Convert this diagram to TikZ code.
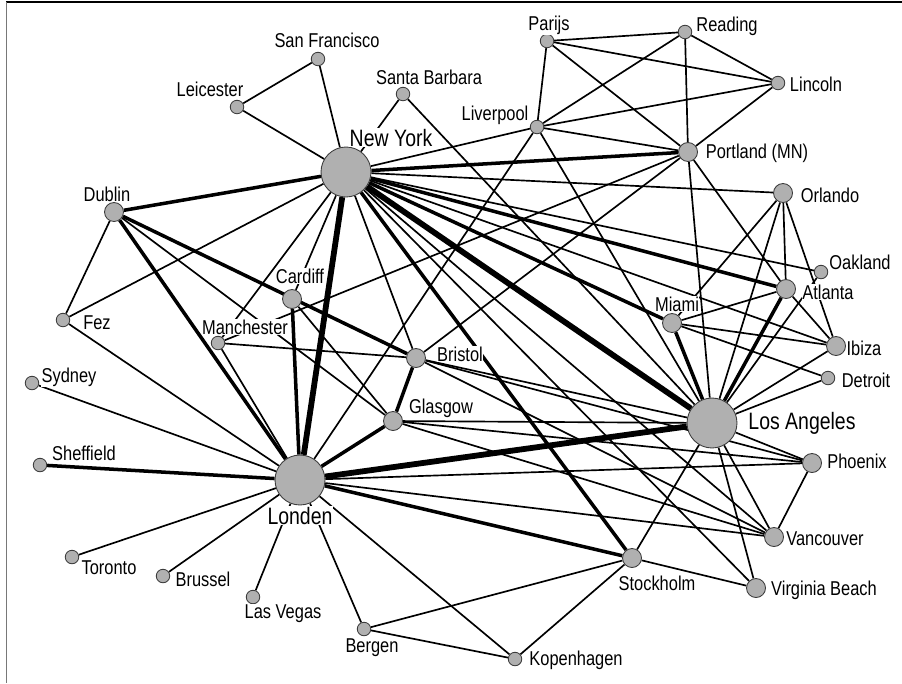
\documentclass[tikz,border=0pt]{standalone}
\usepackage{fontspec}
\setmainfont{Liberation Sans}[FakeStretch=0.82]
\definecolor{citygray}{RGB}{176,176,176}
\definecolor{rimgray}{RGB}{60,60,60}
\definecolor{framegray}{RGB}{120,120,120}
\pgfdeclarelayer{edges}
\pgfsetlayers{edges,main}
\tikzset{
  city/.style={circle,draw=rimgray,fill=citygray,line width=0.5pt,inner sep=0pt,minimum size=0.27cm},
  midcity/.style={city,minimum size=0.38cm},
  hubcity/.style={city,minimum size=1cm},
  lbl/.style={fill=white,inner sep=0.3pt,anchor=base,font=\fontsize{11.4}{13}\selectfont},
  hublbl/.style={lbl,font=\fontsize{13.5}{15}\selectfont},
  link/.style={line width=0.95pt},
  heavy/.style={line width=2pt},
  trunk/.style={line width=3.3pt},
}

\begin{document}
\begin{tikzpicture}[x=0.02cm,y=-0.02cm]
  \useasboundingbox (0,0) rectangle (902,683);
  % frame
  \draw[line width=0.8pt] (6,2) -- (902,2);
  \draw[framegray,line width=0.8pt] (6.5,2) -- (6.5,683);
  % hubs
  \node[hubcity] (ny)  at (346,172) {};
  \node[hubcity] (la)  at (712,423) {};
  \node[hubcity] (lon) at (300,480) {};
  % medium cities
  \node[midcity] (port) at (688,152) {};
  \node[midcity] (orl)  at (783,193) {};
  \node[midcity] (atl)  at (786,289) {};
  \node[midcity] (mia)  at (672,323) {};
  \node[midcity] (ibi)  at (836,346) {};
  \node[midcity] (phx)  at (812,463) {};
  \node[midcity] (van)  at (774,537) {};
  \node[midcity] (vb)   at (756,588) {};
  \node[midcity] (sto)  at (632,558) {};
  \node[midcity] (dub)  at (114,212) {};
  \node[midcity] (car)  at (292,299) {};
  \node[midcity] (bri)  at (416,358) {};
  \node[midcity] (gla)  at (393,421) {};
  % small cities
  \node[city] (sf)   at (318,59)  {};
  \node[city] (leic) at (237,107) {};
  \node[city] (sb)   at (403,94)  {};
  \node[city] (par)  at (547,41)  {};
  \node[city] (read) at (685,32)  {};
  \node[city] (linc) at (778,83)  {};
  \node[city] (liv)  at (537,127) {};
  \node[city] (oak)  at (821,272) {};
  \node[city] (det)  at (828,378) {};
  \node[city] (kop)  at (515,659) {};
  \node[city] (ber)  at (364,629) {};
  \node[city] (lv)   at (253,597) {};
  \node[city] (bru)  at (163,576) {};
  \node[city] (tor)  at (72,557)  {};
  \node[city] (she)  at (40,465)  {};
  \node[city] (syd)  at (32,383)  {};
  \node[city] (fez)  at (63,320)  {};
  \node[city] (man)  at (218,343) {};
  % connections
  \begin{pgfonlayer}{edges}
    \foreach \a/\b in {ny/la,ny/lon,lon/la}
      \draw[trunk] (\a) -- (\b);
    \foreach \a/\b in {ny/port,ny/dub,ny/atl,ny/mia,ny/sto,dub/lon,dub/bri,car/lon,
                       lon/gla,bri/gla,lon/she,lon/sto,la/mia,la/atl}
      \draw[heavy] (\a) -- (\b);
    \foreach \a/\b in {sf/leic,sf/ny,leic/ny,sb/ny,sb/la,
                       par/read,par/linc,par/liv,par/port,read/linc,read/liv,read/port,
                       linc/liv,linc/port,liv/ny,liv/port,liv/lon,liv/la,
                       port/man,port/bri,port/la,port/atl,
                       ny/orl,ny/oak,ny/ibi,ny/fez,ny/man,ny/car,ny/bri,ny/van,ny/vb,
                       dub/fez,dub/gla,fez/lon,syd/lon,tor/lon,bru/lon,lv/lon,ber/lon,
                       kop/lon,lon/phx,lon/van,man/lon,man/bri,car/gla,
                       bri/la,bri/phx,bri/van,gla/la,gla/phx,gla/van,
                       orl/mia,orl/la,orl/atl,orl/ibi,oak/la,mia/atl,mia/ibi,mia/det,
                       atl/ibi,ibi/la,det/la,la/phx,la/van,la/vb,la/sto,phx/van,
                       sto/vb,sto/ber,sto/kop,ber/kop}
      \draw[link] (\a) -- (\b);
  \end{pgfonlayer}
  % labels
  \node[hublbl] (ny-l)  at (391,146) {New York};
  \node[hublbl] (la-l)  at (802,429) {Los Angeles};
  \node[hublbl] (lon-l) at (300,524) {Londen};
  \node[lbl] (sf-l)   at (327,47)  {San Francisco};
  \node[lbl] (leic-l) at (210,96)  {Leicester};
  \node[lbl] (sb-l)   at (429,84)  {Santa Barbara};
  \node[lbl] (dub-l)  at (107,201) {Dublin};
  \node[lbl] (par-l)  at (549,30)  {Parijs};
  \node[lbl] (read-l) at (727,31)  {Reading};
  \node[lbl] (linc-l) at (816,91)  {Lincoln};
  \node[lbl] (liv-l)  at (495,120) {Liverpool};
  \node[lbl] (port-l) at (757,158) {Portland (MN)};
  \node[lbl] (orl-l)  at (830,202) {Orlando};
  \node[lbl] (fez-l)  at (97,329)  {Fez};
  \node[lbl] (syd-l)  at (69,382)  {Sydney};
  \node[lbl] (she-l)  at (84,460)  {Sheffield};
  \node[lbl] (car-l)  at (300,283) {Cardiff};
  \node[lbl] (man-l)  at (245,334) {Manchester};
  \node[lbl] (bri-l)  at (460,361) {Bristol};
  \node[lbl] (gla-l)  at (441,413) {Glasgow};
  \node[lbl] (oak-l)  at (860,269) {Oakland};
  \node[lbl] (atl-l)  at (828,299) {Atlanta};
  \node[lbl] (mia-l)  at (677,311) {Miami};
  \node[lbl] (ibi-l)  at (864,355) {Ibiza};
  \node[lbl] (det-l)  at (866,387) {Detroit};
  \node[lbl] (phx-l)  at (857,468) {Phoenix};
  \node[lbl] (van-l)  at (825,545) {Vancouver};
  \node[lbl] (vb-l)   at (824,595) {Virginia Beach};
  \node[lbl] (sto-l)  at (657,590) {Stockholm};
  \node[lbl] (kop-l)  at (576,665) {Kopenhagen};
  \node[lbl] (tor-l)  at (109,574) {Toronto};
  \node[lbl] (bru-l)  at (203,586) {Brussel};
  \node[lbl] (lv-l)   at (283,618) {Las Vegas};
  \node[lbl] (ber-l)  at (372,652) {Bergen};
\end{tikzpicture}
\end{document}
